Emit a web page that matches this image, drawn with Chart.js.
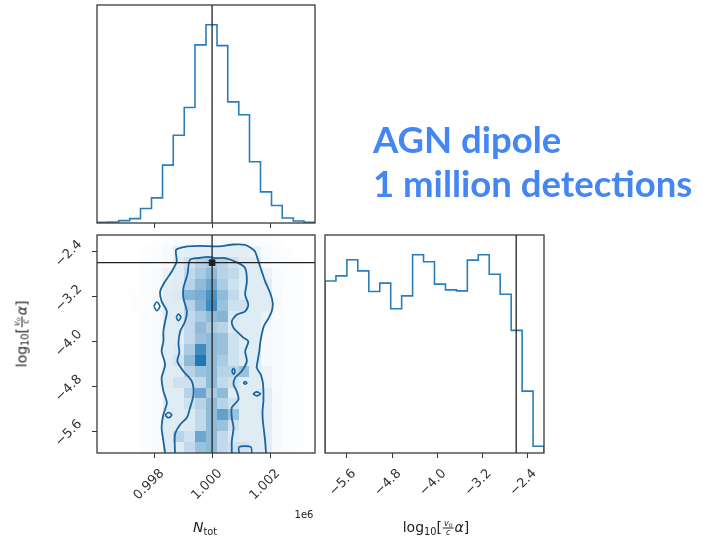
<!DOCTYPE html>
<html>
<head>
<meta charset="utf-8">
<script src="https://cdn.jsdelivr.net/npm/chart.js@4.4.1/dist/chart.umd.min.js"></script>
<style>
  body { margin: 0; background: #fff; }
  #wrap { position: relative; width: 703px; height: 541px; overflow: hidden;
          font-family: "DejaVu Sans", sans-serif; color: #222; }
  canvas { position: absolute; left: 0; top: 0; }
  #title { position: absolute; left: 373px; top: 117px; font-family: Lato, sans-serif;
           font-weight: bold; font-size: 36.5px; line-height: 44px; color: #4486f4; white-space: nowrap; }
  .lbl { position: absolute; white-space: nowrap; font-size: 14px; line-height: 1;
         transform: translate(-50%, -50%); }
  .lbl sub { font-size: 70%; vertical-align: -0.3em; line-height: 0; }
  #ylabA { transform: translate(-50%, -50%) rotate(-90deg); }
  #offN { font-size: 10px; }
  .frac { display: inline-block; vertical-align: middle; font-size: 8px; line-height: 1;
          text-align: center; margin: 0 1px; }
  .frac span.n { display: block; border-bottom: 1px solid #222; padding: 0 1px; }
  .frac span.d { display: block; }
  .frac sub { font-size: 80%; vertical-align: -0.2em; }
</style>
</head>
<body>
<div id="wrap">
  <canvas id="histN" width="703" height="541"></canvas>
  <canvas id="joint" width="703" height="541"></canvas>
  <canvas id="histA" width="703" height="541"></canvas>
  <div id="title">AGN dipole<br>1 million detections</div>
  <div class="lbl" id="xlabN" style="left:205px; top:527px"><i>N</i><sub>tot</sub></div>
  <div class="lbl" id="offN" style="left:304px; top:515px">1e6</div>
  <div class="lbl" id="xlabA" style="left:436px; top:528px">log<sub>10</sub>[<span class="frac"><span class="n"><i>v</i><sub>o</sub></span><span class="d"><i>c</i></span></span><i>α</i>]</div>
  <div class="lbl" id="ylabA" style="left:22px; top:334px">log<sub>10</sub>[<span class="frac"><span class="n"><i>v</i><sub>o</sub></span><span class="d"><i>c</i></span></span><i>α</i>]</div>
</div>
<script>
// N_tot in units of 1e6, log10(v_o/c alpha)
const truthN = 1.000;
const truthA = -2.6;

const nTicks = [0.998, 1.000, 1.002];
const aTicks = [-5.6, -4.8, -4.0, -3.2, -2.4];

// 20 bins each
const nEdges = [0.99603, 0.99641, 0.99678, 0.99716, 0.99753, 0.99791, 0.99829, 0.99866, 0.99904, 0.99941,
                0.99979, 1.00017, 1.00054, 1.00092, 1.00129, 1.00167, 1.00205, 1.00242, 1.00280, 1.00317, 1.00355];
const nCounts = [0.3, 0.5, 1.2, 2.2, 7.3, 12.7, 29.2, 44.3, 58.3, 89.9,
                 100, 89.5, 61.1, 54.6, 30.9, 15.7, 8.8, 2.5, 1.0, 0.3];

const aEdges = [-5.990, -5.796, -5.602, -5.408, -5.213, -5.019, -4.825, -4.631, -4.437, -4.243,
                -4.049, -3.854, -3.660, -3.466, -3.272, -3.078, -2.884, -2.689, -2.495, -2.301, -2.107];
const aCounts = [86.8, 89.4, 97.5, 91.9, 81.5, 85.7, 72.8, 79.3, 100, 96.5,
                 85.2, 82.3, 81.8, 97.3, 100, 90.2, 80.1, 61.9, 31.2, 3.4];

// 2d histogram shading, rows from top (highest alpha bin) to bottom, columns along N_tot
const density2d = [
  [0,0,0,0,0,.01,.02,.03,.03,.03,.03,.03,.03,.03,.02,.02,.01,0,0,0],
  [0,0,0,0,.01,.02,.04,.10,.13,.13,.13,.13,.13,.13,.09,.03,.02,.01,0,0],
  [0,0,0,0,.01,.02,.04,.14,.22,.32,.38,.32,.22,.14,.14,.04,.02,.02,.01,0],
  [0,0,0,0,.02,.03,.09,.14,.28,.38,.50,.32,.28,.14,.14,.09,.03,.02,.01,0],
  [0,0,0,0,.02,.03,.13,.14,.32,.50,.65,.38,.22,.14,.14,.13,.03,.02,.01,0],
  [0,0,0,.01,.02,.05,.14,.16,.55,.60,.80,.50,.28,.14,.14,.14,.04,.02,.01,0],
  [0,0,0,.01,.02,.04,.14,.14,.32,.55,.85,.45,.22,.22,.14,.14,.04,.02,.01,0],
  [0,0,0,0,.02,.03,.14,.14,.28,.38,.50,.55,.16,.14,.14,.09,.03,.02,.01,0],
  [0,0,0,0,.02,.03,.14,.14,.28,.50,.38,.32,.16,.14,.14,.05,.03,.02,.01,0],
  [0,0,0,0,.02,.03,.14,.14,.28,.45,.50,.45,.22,.14,.14,.04,.03,.02,.01,0],
  [0,0,0,0,.02,.03,.14,.16,.38,.85,.50,.45,.22,.14,.14,.04,.03,.02,.01,0],
  [0,0,0,0,.02,.03,.14,.22,.50,1.0,.50,.38,.22,.14,.14,.04,.03,.02,.01,0],
  [0,0,0,0,.02,.03,.14,.14,.32,.45,.50,.32,.32,.45,.14,.09,.03,.02,.01,0],
  [0,0,0,0,.02,.03,.14,.22,.22,.28,.50,.28,.22,.14,.14,.09,.03,.02,.01,0],
  [0,0,0,0,.02,.03,.14,.14,.32,.65,.38,.50,.14,.14,.14,.13,.04,.02,.01,0],
  [0,0,0,0,.02,.03,.14,.14,.22,.32,.50,.32,.22,.14,.14,.13,.04,.02,.01,0],
  [0,0,0,0,.02,.03,.14,.14,.16,.28,.50,.70,.45,.14,.14,.13,.04,.02,.01,0],
  [0,0,0,0,.02,.03,.14,.14,.16,.28,.50,.45,.22,.14,.14,.13,.04,.02,.01,0],
  [0,0,0,0,.02,.03,.14,.32,.22,.65,.50,.28,.16,.14,.14,.13,.04,.02,.01,0],
  [0,0,0,0,.02,.03,.14,.14,.28,.45,.50,.28,.22,.22,.14,.13,.04,.02,.01,0]
];

// contour lines [N_tot, alpha]
const contourOuter = [
  [0.99838,-5.99],[0.99832,-5.778],[0.99826,-5.541],[0.99832,-5.304],[0.99844,-5.096],[0.99832,-4.889],
  [0.99826,-4.652],[0.99838,-4.415],[0.99826,-4.178],[0.99832,-4.000],[0.99832,-3.822],[0.99838,-3.644],
  [0.99844,-3.467],[0.99826,-3.289],[0.99821,-3.111],[0.99838,-2.933],[0.99861,-2.756],[0.99878,-2.578],
  [0.99876,-2.370],[0.99913,-2.311],[0.99959,-2.299],[1.00022,-2.311],[1.00074,-2.276],[1.00114,-2.281],
  [1.00137,-2.347],[1.00148,-2.400],[1.00160,-2.578],[1.00171,-2.750],[1.00183,-2.933],[1.00200,-3.135],
  [1.00209,-3.313],[1.00206,-3.461],[1.00194,-3.597],[1.00179,-3.727],[1.00171,-3.881],[1.00166,-4.030],
  [1.00163,-4.172],[1.00157,-4.356],[1.00154,-4.474],[1.00168,-4.593],[1.00175,-4.735],[1.00177,-4.883],
  [1.00177,-5.067],[1.00174,-5.239],[1.00175,-5.416],[1.00179,-5.594],[1.00183,-5.778],[1.00186,-5.99]
];
const contourInner = [
  [0.99872,-5.99],[0.99872,-5.659],[0.99890,-5.481],[0.99913,-5.363],[0.99924,-5.185],[0.99936,-4.948],
  [0.99930,-4.711],[0.99901,-4.533],[0.99880,-4.356],[0.99887,-4.201],[0.99884,-4.030],[0.99890,-3.822],
  [0.99907,-3.644],[0.99913,-3.467],[0.99901,-3.230],[0.99901,-3.052],[0.99915,-2.809],[0.99924,-2.548],
  [0.99959,-2.513],[0.99987,-2.495],[1.00010,-2.519],[1.00045,-2.519],[1.00091,-2.607],[1.00114,-2.696],
  [1.00120,-2.933],[1.00114,-3.170],[1.00125,-3.348],[1.00114,-3.467],[1.00085,-3.526],[1.00068,-3.644],
  [1.00074,-3.763],[1.00085,-3.822],[1.00108,-3.935],[1.00125,-4.000],[1.00114,-4.178],[1.00120,-4.356],
  [1.00102,-4.533],[1.00079,-4.652],[1.00074,-4.770],[1.00085,-4.889],[1.00091,-5.037],[1.00068,-5.185],
  [1.00068,-5.363],[1.00074,-5.541],[1.00068,-5.778],[1.00068,-5.99]
];
const contourIslands = [
  [[0.99799,-3.378],[0.99809,-3.301],[0.99820,-3.378],[0.99809,-3.455],[0.99799,-3.378]],
  [[0.99876,-3.573],[0.99884,-3.514],[0.99892,-3.573],[0.99884,-3.633],[0.99876,-3.573]],
  [[0.99838,-5.315],[0.99849,-5.268],[0.99861,-5.315],[0.99849,-5.363],[0.99838,-5.315]],
  [[1.00068,-4.533],[1.00074,-4.480],[1.00079,-4.533],[1.00074,-4.587],[1.00068,-4.533]],
  [[1.00108,-4.741],[1.00114,-4.717],[1.00120,-4.741],[1.00114,-4.764],[1.00108,-4.741]],
  [[1.00141,-4.936],[1.00154,-4.901],[1.00167,-4.936],[1.00154,-4.972],[1.00141,-4.936]],
  [[1.00093,-5.99],[1.00093,-5.884],[1.00114,-5.867],[1.00134,-5.884],[1.00137,-5.99]]
];

const C0 = '#2a7db8';
const CONT = 'rgb(26,100,160)';
const INK = '#222';

Chart.defaults.font.family = '"DejaVu Sans", sans-serif';
Chart.defaults.font.size = 13;
Chart.defaults.color = '#333';

const pts = arr => arr.map(p => ({x: p[0], y: p[1]}));

function stepPoints(edges, counts) {
  const out = [{x: edges[0], y: 0}];
  counts.forEach((c, i) => out.push({x: edges[i], y: c}));
  out.push({x: edges[edges.length - 1], y: 0});
  return out;
}

const minus = s => s.replace('-', '\u2212');

const frame = {
  id: 'frame',
  afterDatasetsDraw(chart) {
    const {ctx, chartArea: a} = chart;
    ctx.save();
    ctx.strokeStyle = '#3a3a3a';
    ctx.lineWidth = 1.3;
    ctx.strokeRect(a.left, a.top, a.width, a.height);
    ctx.restore();
  }
};

const densityCells = {
  id: 'densityCells',
  beforeDatasetsDraw(chart) {
    const {ctx, chartArea: a, scales: {x, y}} = chart;
    ctx.save();
    ctx.beginPath();
    ctx.rect(a.left, a.top, a.width, a.height);
    ctx.clip();
    const nRows = density2d.length;
    density2d.forEach((row, r) => {
      const j = nRows - 1 - r;
      row.forEach((v, i) => {
        if (!v) return;
        const x0 = Math.round(x.getPixelForValue(nEdges[i]));
        const x1 = Math.round(x.getPixelForValue(nEdges[i + 1]));
        const y0 = Math.round(y.getPixelForValue(aEdges[j + 1]));
        const y1 = Math.round(y.getPixelForValue(aEdges[j]));
        ctx.fillStyle = 'rgba(31,119,180,' + v + ')';
        ctx.fillRect(x0, y0, x1 - x0, y1 - y0);
      });
    });
    ctx.restore();
  }
};

const tickGrid = {drawOnChartArea: false, drawTicks: true, tickLength: 5, color: '#333', lineWidth: 1};
const setTicks = list => scale => { scale.ticks = list.map(v => ({value: v})); };
const line = (data, color, width) => ({data, showLine: true, borderColor: color, borderWidth: width,
                                        pointRadius: 0, fill: false});
const base = padding => ({
  responsive: false, animation: false, events: [],
  layout: {padding},
  plugins: {legend: {display: false}, tooltip: {enabled: false}}
});

// top: N_tot histogram
new Chart(document.getElementById('histN'), {
  type: 'scatter',
  data: {datasets: [
    line([{x: truthN, y: 0}, {x: truthN, y: 110}], INK, 1.3),
    Object.assign(line(stepPoints(nEdges, nCounts), C0, 1.6), {stepped: true})
  ]},
  options: Object.assign(base({left: 97, right: 388, top: 5, bottom: 312}), {
    scales: {
      x: {type: 'linear', min: nEdges[0], max: nEdges[20], afterBuildTicks: setTicks(nTicks),
          ticks: {display: false}, grid: tickGrid, border: {display: false},
          afterFit: s => { s.height = 6; }},
      y: {display: false, min: 0, max: 110}
    }
  }),
  plugins: [frame]
});

// joint panel
const jointSets = [
  {data: [{x: truthN, y: truthA}], pointStyle: 'rect', pointRadius: 4, backgroundColor: INK, borderColor: INK},
  line([{x: truthN, y: aEdges[0]}, {x: truthN, y: aEdges[20]}], INK, 1.3),
  line([{x: nEdges[0], y: truthA}, {x: nEdges[20], y: truthA}], INK, 1.3),
  Object.assign(line(pts(contourOuter), CONT, 1.8), {tension: 0.25}),
  Object.assign(line(pts(contourInner), CONT, 1.8), {tension: 0.25})
];
contourIslands.forEach(isl => jointSets.push(Object.assign(line(pts(isl), CONT, 1.6), {tension: 0.3})));

new Chart(document.getElementById('joint'), {
  type: 'scatter',
  data: {datasets: jointSets},
  options: Object.assign(base({left: 0, right: 388, top: 235, bottom: 0}), {
    scales: {
      x: {type: 'linear', min: nEdges[0], max: nEdges[20], afterBuildTicks: setTicks(nTicks),
          ticks: {minRotation: 45, maxRotation: 45, labelOffset: 8, padding: 8, color: '#333',
                  callback: v => v.toFixed(3)},
          grid: tickGrid, border: {display: false}, afterFit: s => { s.height = 88; }},
      y: {type: 'linear', min: aEdges[0], max: aEdges[20], afterBuildTicks: setTicks(aTicks),
          ticks: {minRotation: 45, maxRotation: 45, labelOffset: -9, padding: 12, color: '#333',
                  callback: v => minus(v.toFixed(1))},
          grid: tickGrid, border: {display: false}, afterFit: s => { s.width = 97; }}
    }
  }),
  plugins: [densityCells, frame]
});

// right: alpha histogram
new Chart(document.getElementById('histA'), {
  type: 'scatter',
  data: {datasets: [
    line([{x: truthA, y: 0}, {x: truthA, y: 110}], INK, 1.3),
    Object.assign(line(stepPoints(aEdges, aCounts), C0, 1.6), {stepped: true})
  ]},
  options: Object.assign(base({left: 325, right: 159, top: 235, bottom: 0}), {
    scales: {
      x: {type: 'linear', min: aEdges[0], max: aEdges[20], afterBuildTicks: setTicks(aTicks),
          ticks: {minRotation: 45, maxRotation: 45, labelOffset: 7, padding: 8, color: '#333',
                  callback: v => minus(v.toFixed(1))},
          grid: tickGrid, border: {display: false}, afterFit: s => { s.height = 88; }},
      y: {display: false, min: 0, max: 110}
    }
  }),
  plugins: [frame]
});
</script>
</body>
</html>
